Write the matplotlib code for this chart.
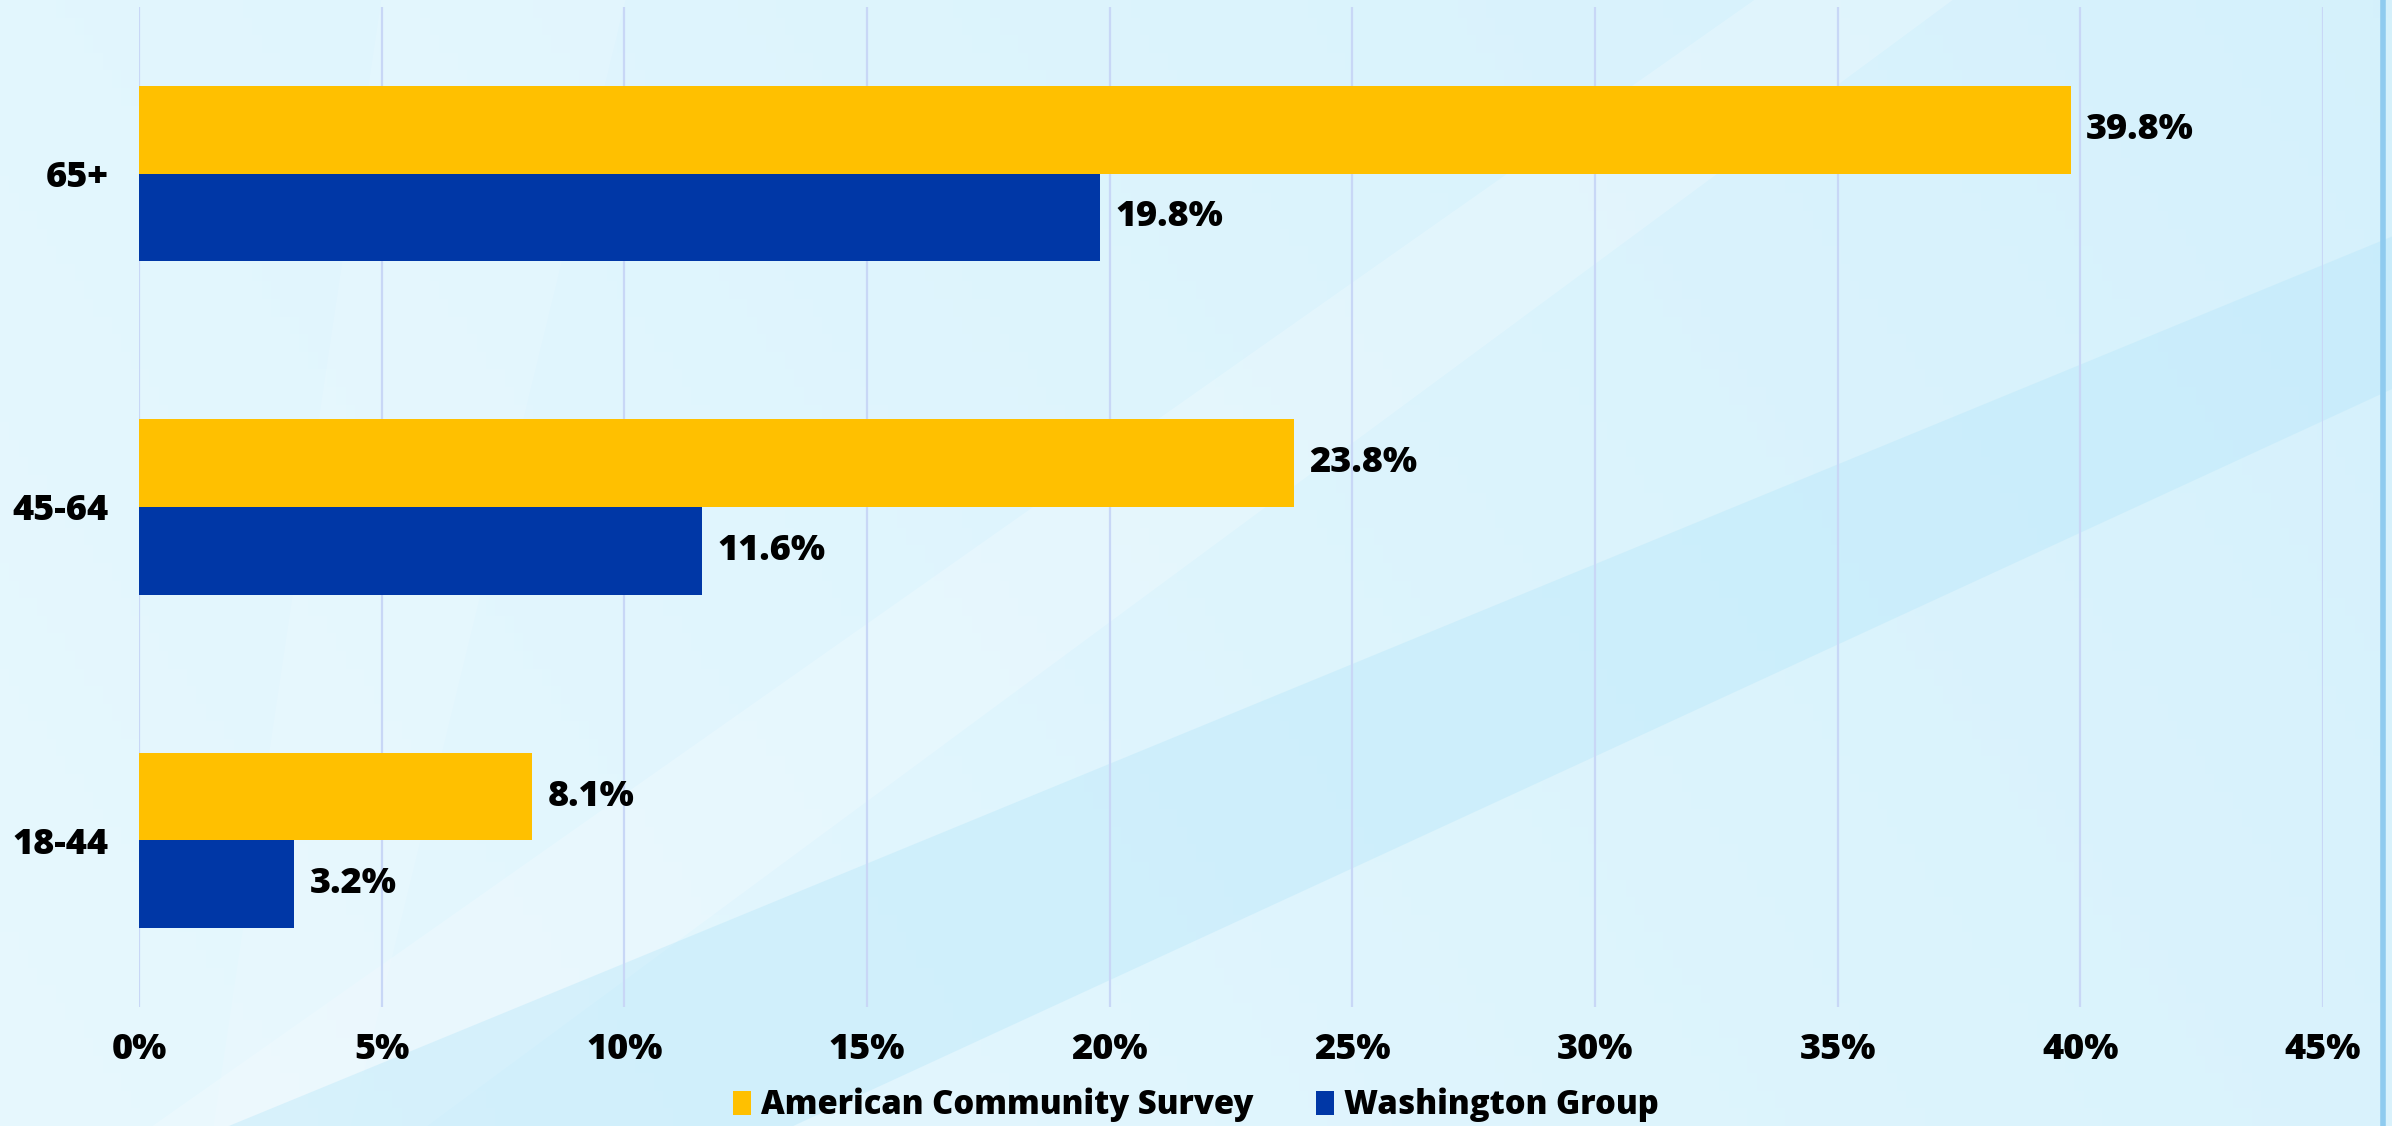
import numpy as np
import matplotlib
matplotlib.use("Agg")
import matplotlib.pyplot as plt
from matplotlib.patches import Polygon, Patch
from matplotlib.lines import Line2D

# data
age_groups = ['18-44', '45-64', '65+']
acs_values = [8.1, 23.8, 39.8]
wg_values = [3.2, 11.6, 19.8]
x_ticks = [0, 5, 10, 15, 20, 25, 30, 35, 40, 45]
series_names = ['American Community Survey', 'Washington Group']

YELLOW = '#FFC000'
BLUE = '#0037A6'
WEIGHT = 'heavy'

plt.rcParams['font.family'] = ['Open Sans', 'DejaVu Sans']
plt.rcParams['font.weight'] = WEIGHT

fig = plt.figure(figsize=(23.92, 11.26), dpi=100)

# background: soft gradient with diagonal streaks
bg = fig.add_axes([0, 0, 1, 1], zorder=0)
bg.set_xlim(0, 1)
bg.set_ylim(0, 1)
bg.axis('off')
c0 = np.array([0.905, 0.972, 0.996])
c1 = np.array([0.835, 0.945, 0.988])
gx = np.linspace(0, 1, 256)[None, :, None]
gy = np.linspace(0, 1, 64)[:, None, None]
grad = c0 + (c1 - c0) * np.clip(0.75 * gx + 0.25 * (1 - gy), 0, 1)
bg.imshow(grad, extent=[0, 1, 0, 1], aspect='auto', origin='upper')

def streak(pts, color, alpha):
    pts = [(x / 1568, 1 - y / 738) for x, y in pts]
    bg.add_patch(Polygon(pts, closed=True, facecolor=color, edgecolor='none', alpha=alpha))

streak([(1150, 0), (1280, 0), (280, 738), (100, 738)], 'white', 0.22)
streak([(250, 0), (410, 0), (230, 738), (140, 738)], 'white', 0.12)
streak([(1568, 155), (1568, 255), (520, 738), (150, 738)], '#B5E6FA', 0.38)
bg.add_line(Line2D([2383 / 2392] * 2, [0, 1], color='#8FCBEF', lw=4))

# main chart
ax = fig.add_axes([139 / 2392, 1 - 1007 / 1126, 2184 / 2392, 1000 / 1126], zorder=1)
ax.patch.set_alpha(0)

y = np.arange(len(age_groups))
h = 0.263
b1 = ax.barh(y + h / 2, acs_values, height=h, color=YELLOW, label=series_names[0], zorder=3)
b2 = ax.barh(y - h / 2, wg_values, height=h, color=BLUE, label=series_names[1], zorder=3)

ax.bar_label(b1, labels=[f'{v}%' for v in acs_values], padding=11,
             fontsize=26, fontweight=WEIGHT, color='black')
ax.bar_label(b2, labels=[f'{v}%' for v in wg_values], padding=11,
             fontsize=26, fontweight=WEIGHT, color='black')

ax.set_xlim(0, 45)
ax.set_ylim(-0.5, 2.5)
ax.set_xticks(x_ticks)
ax.set_xticklabels([f'{t}%' for t in x_ticks])
ax.set_yticks(y)
ax.set_yticklabels(age_groups)
ax.tick_params(axis='both', length=0, labelsize=26, colors='black')
ax.tick_params(axis='x', pad=18)
ax.tick_params(axis='y', pad=22)
for lab in ax.get_xticklabels() + ax.get_yticklabels():
    lab.set_fontweight(WEIGHT)

ax.set_axisbelow(True)
ax.xaxis.grid(True, color='#C8D7F6', lw=1.6)
ax.yaxis.grid(False)
for s in ax.spines.values():
    s.set_visible(False)

handles = [Patch(facecolor=YELLOW), Patch(facecolor=BLUE)]
fig.legend(handles, series_names, loc='center', bbox_to_anchor=(0.5, 1 - 1105 / 1126),
           ncol=2, frameon=False, handlelength=0.55, handleheight=0.75,
           handletextpad=0.3, columnspacing=1.9, prop={'weight': WEIGHT, 'size': 23.6})

fig.savefig('out.png', dpi=100)
